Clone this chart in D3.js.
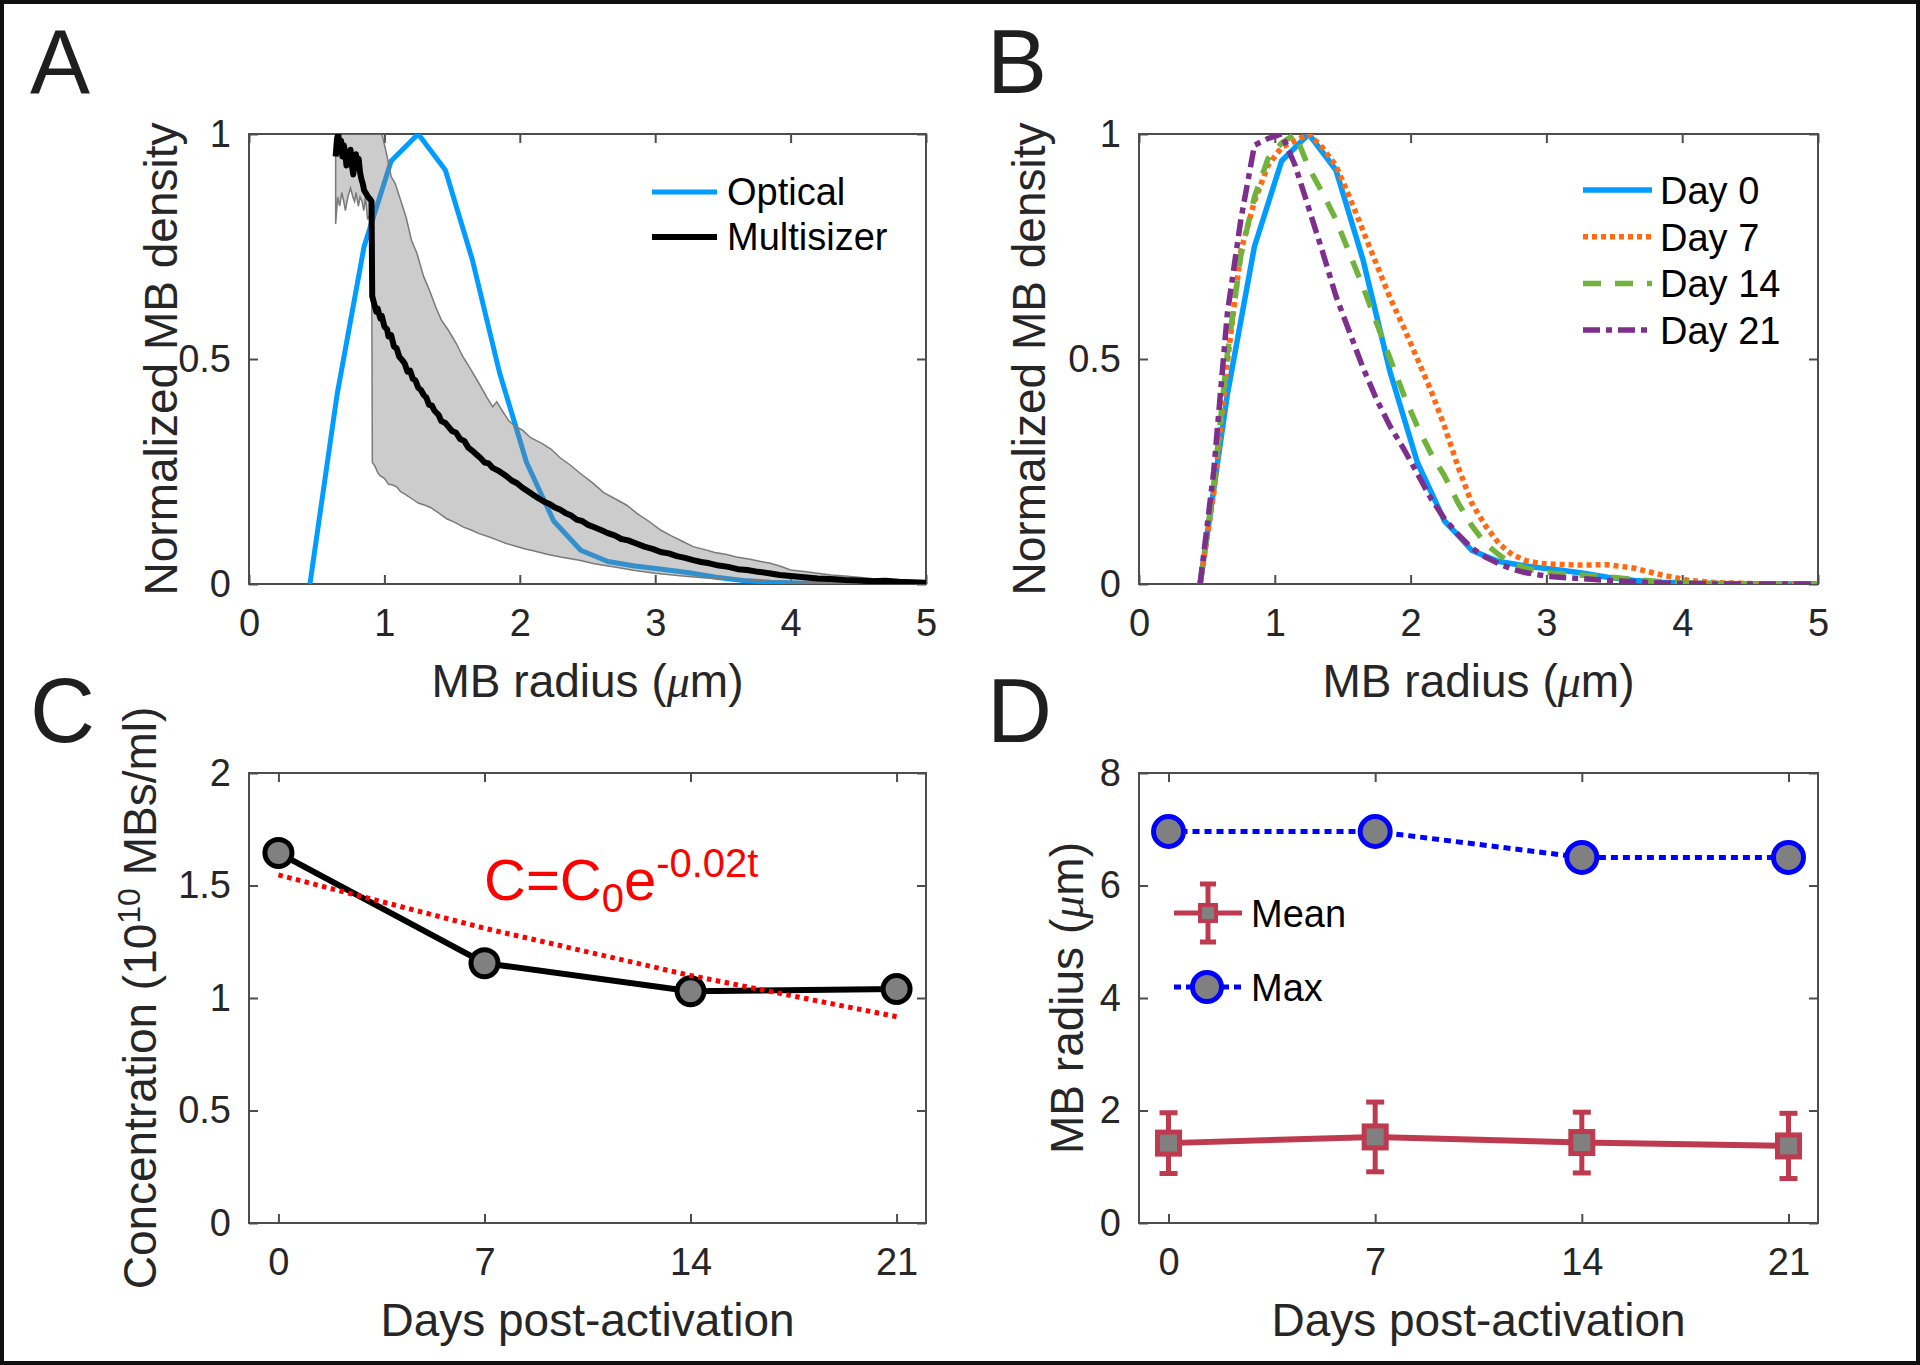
<!DOCTYPE html>
<html><head><meta charset="utf-8">
<script src="https://cdn.jsdelivr.net/npm/d3@7"></script>
<style>body{margin:0;background:#fff} svg{display:block}</style>
</head><body>
<svg id="fig" width="1920" height="1365"></svg>
<script>
// ---------- DATA ----------
// Panel A: optical sizing
const radiusOptical = [0.45,0.65,0.85,1.05,1.25,1.45,1.65,1.85,2.05,2.25,2.45,2.65,2.85,3.05,3.25,3.45,3.65,3.85,4.05,4.25,4.5,5.0];
const densityOptical = [0,0.42,0.75,0.94,1.0,0.92,0.72,0.47,0.27,0.14,0.075,0.05,0.04,0.033,0.025,0.015,0.008,0.004,0.002,0.001,0,0];
// Panel A: Multisizer mean
const msRadius = [0.640,0.650,0.660,0.670,0.680,0.690,0.700,0.710,0.720,0.730,0.740,0.750,0.760,0.770,0.780,0.790,0.800,0.810,0.820,0.830,0.840,0.850,0.860,0.870,0.880,0.895,0.905,0.910,0.92,0.94,0.95,0.97,0.98,1.00,1.02,1.03,1.05,1.07,1.09,1.11,1.13,1.15,1.17,1.19,1.21,1.23,1.25,1.27,1.29,1.31,1.33,1.35,1.37,1.40,1.42,1.45,1.48,1.50,1.53,1.56,1.59,1.62,1.65,1.68,1.71,1.74,1.77,1.80,1.84,1.87,1.90,1.94,1.98,2.02,2.06,2.10,2.14,2.18,2.22,2.26,2.30,2.34,2.38,2.42,2.46,2.50,2.55,2.60,2.65,2.70,2.75,2.80,2.86,2.92,2.98,3.04,3.10,3.16,3.22,3.28,3.34,3.40,3.47,3.54,3.61,3.68,3.76,3.84,3.92,4.00,4.10,4.20,4.30,4.40,4.50,4.60,4.70,4.80,4.90,5.00];
const msDensity = [0.95,0.99,1.0,0.96,0.985,0.95,0.975,0.96,0.93,0.955,0.94,0.965,0.93,0.91,0.935,0.955,0.93,0.945,0.915,0.9,0.89,0.875,0.87,0.865,0.86,0.855,0.85,0.64,0.628,0.605,0.612,0.59,0.596,0.572,0.566,0.55,0.553,0.528,0.524,0.505,0.498,0.49,0.472,0.474,0.456,0.452,0.436,0.431,0.42,0.414,0.398,0.397,0.385,0.376,0.362,0.358,0.347,0.34,0.336,0.322,0.318,0.303,0.296,0.288,0.28,0.27,0.268,0.258,0.252,0.246,0.24,0.23,0.224,0.214,0.206,0.198,0.19,0.183,0.178,0.17,0.165,0.157,0.152,0.143,0.14,0.132,0.126,0.12,0.113,0.108,0.1,0.097,0.09,0.083,0.078,0.071,0.068,0.062,0.058,0.053,0.049,0.046,0.041,0.038,0.033,0.031,0.027,0.024,0.02,0.018,0.015,0.012,0.011,0.009,0.008,0.006,0.007,0.005,0.004,0.003];
// Panel A: Multisizer spread (upper / lower envelope)
const bandUpperR = [0.64,0.66,0.70,0.75,0.80,0.85,0.90,0.95,0.99,1.02,1.05,1.08,1.12,1.16,1.20,1.24,1.29,1.33,1.38,1.42,1.47,1.53,1.58,1.64,1.70,1.76,1.80,1.83,1.87,1.92,1.97,2.02,2.08,2.16,2.23,2.30,2.37,2.45,2.54,2.62,2.70,2.79,2.87,2.95,3.04,3.12,3.20,3.28,3.36,3.44,3.52,3.60,3.70,3.78,3.85,3.92,4.00,4.10,4.20,4.30,4.40,4.50,4.60,4.70,4.80,4.90,5.00];
const bandUpperD = [1.04,1.08,1.05,1.1,1.06,1.09,1.07,1.03,0.99,0.95,0.905,0.89,0.853,0.815,0.764,0.735,0.683,0.655,0.615,0.587,0.565,0.535,0.505,0.476,0.445,0.413,0.394,0.405,0.385,0.362,0.35,0.342,0.325,0.313,0.3,0.28,0.265,0.245,0.224,0.203,0.19,0.175,0.156,0.14,0.12,0.107,0.095,0.083,0.077,0.07,0.066,0.06,0.055,0.05,0.046,0.04,0.031,0.028,0.024,0.02,0.018,0.015,0.012,0.01,0.008,0.007,0.005];
const bandLowerR = [0.64,0.655,0.67,0.685,0.70,0.712,0.73,0.75,0.767,0.78,0.79,0.808,0.82,0.835,0.848,0.86,0.876,0.89,0.905,0.911,0.93,0.95,0.97,1.0,1.03,1.06,1.09,1.12,1.16,1.2,1.25,1.30,1.34,1.40,1.46,1.52,1.58,1.64,1.70,1.77,1.83,1.9,1.97,2.04,2.1,2.2,2.3,2.44,2.55,2.7,2.85,3.0,3.2,3.4,3.6,3.8,4.0,4.3,4.6,5.0];
const bandLowerD = [0.80,0.86,0.84,0.87,0.85,0.83,0.86,0.88,0.86,0.85,0.87,0.84,0.86,0.85,0.83,0.86,0.81,0.82,0.80,0.27,0.262,0.248,0.24,0.235,0.222,0.22,0.216,0.205,0.198,0.19,0.18,0.175,0.17,0.158,0.145,0.137,0.127,0.12,0.112,0.105,0.098,0.09,0.084,0.078,0.074,0.066,0.06,0.053,0.045,0.038,0.03,0.024,0.018,0.013,0.01,0.007,0.005,0.003,0.002,0.001];
// Panel B: size distribution per day
const radiusB = [0.45,0.55,0.65,0.75,0.85,0.95,1.05,1.15,1.25,1.35,1.45,1.55,1.65,1.75,1.85,1.95,2.05,2.15,2.25,2.35,2.45,2.55,2.65,2.75,2.85,2.95,3.05,3.25,3.45,3.65,3.85,4.05,4.25,4.5,4.75,5.0];
const densityDay0 = [0,0.21,0.42,0.585,0.75,0.845,0.94,0.97,1.0,0.96,0.92,0.82,0.72,0.595,0.47,0.37,0.27,0.205,0.14,0.108,0.075,0.062,0.05,0.045,0.04,0.036,0.033,0.025,0.015,0.008,0.004,0.002,0.001,0,0,0];
const densityDay7 = [0,0.2,0.49,0.74,0.85,0.93,0.97,0.985,1.0,0.97,0.93,0.86,0.785,0.71,0.635,0.57,0.5,0.43,0.35,0.26,0.18,0.13,0.09,0.065,0.052,0.046,0.044,0.042,0.043,0.035,0.02,0.008,0.003,0.001,0,0];
const densityDay14 = [0,0.22,0.51,0.73,0.86,0.945,0.98,1.0,0.925,0.87,0.81,0.735,0.66,0.58,0.5,0.42,0.35,0.29,0.24,0.18,0.13,0.09,0.065,0.045,0.035,0.028,0.024,0.02,0.016,0.01,0.005,0.002,0.001,0,0,0];
const densityDay21 = [0,0.25,0.6,0.81,0.975,0.99,1.0,0.93,0.835,0.74,0.64,0.56,0.48,0.41,0.35,0.3,0.245,0.19,0.145,0.11,0.08,0.06,0.045,0.033,0.025,0.02,0.016,0.012,0.008,0.005,0.002,0.001,0,0,0,0];
const dayLabels = ["Day 0","Day 7","Day 14","Day 21"];
// Panel C: concentration
const days = [0,7,14,21];
const concentration = [1.645,1.155,1.03,1.04];
const fitConcentration = [1.547,1.31,1.1,0.917];
const fitLabel = "-0.02t";
// Panel D: radius
const meanRadius = [1.42,1.53,1.43,1.37];
const meanRadiusErr = [0.54,0.62,0.54,0.58];
const maxRadius = [6.96,6.96,6.5,6.5];
// ticks
const radiusTicks = [0,1,2,3,4,5];
const densityTicks = [0,0.5,1];
const dayTicks = [0,7,14,21];
const concTicks = [0,0.5,1,1.5,2];
const radiusDTicks = [0,2,4,6,8];

// ---------- DRAWING ----------
const FONT = '"Liberation Sans", Arial, Helvetica, sans-serif';
const svg = d3.select('#fig');
svg.append('rect').attr('width',1920).attr('height',1365).attr('fill','#fff');
const defs = svg.append('defs');

const panels = {
  A:{left:249,right:926,top:134,bottom:584},
  B:{left:1139,right:1818,top:134,bottom:584},
  C:{left:249,right:926,top:773,bottom:1223},
  D:{left:1139,right:1818,top:773,bottom:1223}
};
const AX = '#4d4d4d', TXT = '#262626';

function setup(id, xDom, yDom, xTicks, yTicks) {
  const p = panels[id];
  const x = d3.scaleLinear().domain(xDom).range([p.left, p.right]);
  const y = d3.scaleLinear().domain(yDom).range([p.bottom, p.top]);
  defs.append('clipPath').attr('id','clip'+id).append('rect')
    .attr('x',p.left).attr('y',p.top).attr('width',p.right-p.left).attr('height',p.bottom-p.top);
  const g = svg.append('g');
  g.append('rect').attr('x',p.left).attr('y',p.top).attr('width',p.right-p.left).attr('height',p.bottom-p.top)
    .attr('fill','none').attr('stroke',AX).attr('stroke-width',2);
  const axes = [
    [d3.axisBottom(x).tickValues(xTicks).tickFormat(d=>String(d)).tickPadding(25), `translate(0,${p.bottom})`],
    [d3.axisTop(x).tickValues(xTicks).tickFormat(''), `translate(0,${p.top})`],
    [d3.axisLeft(y).tickValues(yTicks).tickFormat(d=>String(d)).tickPadding(18), `translate(${p.left},0)`],
    [d3.axisRight(y).tickValues(yTicks).tickFormat(''), `translate(${p.right},0)`]
  ];
  axes.forEach(([ax, tr]) => {
    ax.tickSizeInner(-9).tickSizeOuter(0);
    const a = g.append('g').attr('transform', tr).call(ax);
    a.attr('font-family', FONT).attr('font-size', 38);
    a.select('.domain').remove();
    a.selectAll('.tick line').attr('stroke', AX).attr('stroke-width', 2);
    a.selectAll('.tick text').attr('fill', TXT);
  });
  const plot = svg.append('g').attr('clip-path', `url(#clip${id})`);
  return {x, y, g, plot, p};
}

function xlabel(P, parts) {
  const t = svg.append('text').attr('x',(P.p.left+P.p.right)/2).attr('y',P.p.bottom+113)
    .attr('text-anchor','middle').attr('font-family',FONT).attr('font-size',46).attr('fill',TXT);
  parts(t);
}
function ylabel(P, bx, parts) {
  const cy = (P.p.top+P.p.bottom)/2;
  const t = svg.append('text').attr('transform',`translate(${bx},${cy}) rotate(-90)`)
    .attr('text-anchor','middle').attr('font-family',FONT).attr('font-size',46).attr('fill',TXT);
  parts(t);
}
function muLabel(prefix){
  return t => {
    t.append('tspan').text(prefix + ' (');
    t.append('tspan').attr('font-family','"Liberation Serif", "DejaVu Serif", serif').attr('font-style','italic').text('μ');
    t.append('tspan').text('m)');
  };
}
function letter(ch, x, y) {
  svg.append('text').attr('x',x).attr('y',y).attr('font-family',FONT).attr('font-size',90)
    .attr('fill','#1f1f1f').text(ch);
}

const blue = '#009cff', orange = '#ff6a13', green = '#70b33c', purple = '#7e2f8e';
const crimson = '#be3a4f', maxBlue = '#0000ff';

// ===== Panel A =====
const A = setup('A', [0,5], [0,1], radiusTicks, densityTicks);
const lineA = d3.line().x(d=>A.x(d[0])).y(d=>A.y(d[1]));
A.plot.append('path').attr('d', lineA(d3.zip(radiusOptical, densityOptical)))
  .attr('fill','none').attr('stroke',blue).attr('stroke-width',5).attr('stroke-linejoin','round');
const bandPts = d3.zip(bandUpperR, bandUpperD).concat(d3.zip(bandLowerR, bandLowerD).reverse());
A.plot.append('path').attr('d', lineA(bandPts) + 'Z')
  .attr('fill','#808080').attr('fill-opacity',0.4).attr('stroke','#7a7a7a').attr('stroke-width',1.5);
A.plot.append('path').attr('d', lineA(d3.zip(msRadius, msDensity)))
  .attr('fill','none').attr('stroke','#000').attr('stroke-width',6).attr('stroke-linejoin','round');
xlabel(A, muLabel('MB radius'));
ylabel(A, 177, t=>t.text('Normalized MB density'));
letter('A', 30, 93);
// legend A
const legA = [{label:'Optical', color:blue, w:5}, {label:'Multisizer', color:'#000', w:6}];
legA.forEach((d,i)=>{
  const yy = 192 + i*45;
  svg.append('line').attr('x1',652).attr('x2',717).attr('y1',yy).attr('y2',yy).attr('stroke',d.color).attr('stroke-width',d.w);
  svg.append('text').attr('x',727).attr('y',yy+13).attr('font-family',FONT).attr('font-size',38).attr('fill','#000').text(d.label);
});

// ===== Panel B =====
const B = setup('B', [0,5], [0,1], radiusTicks, densityTicks);
const lineB = d3.line().x(d=>B.x(d[0])).y(d=>B.y(d[1]));
const seriesB = [
  {y:densityDay0, color:blue, dash:null},
  {y:densityDay7, color:orange, dash:'5,4'},
  {y:densityDay14, color:green, dash:'18,14'},
  {y:densityDay21, color:purple, dash:'17,6,6,6'}
];
seriesB.forEach(s=>{
  B.plot.append('path').attr('d', lineB(d3.zip(radiusB, s.y)))
    .attr('fill','none').attr('stroke',s.color).attr('stroke-width',5.5)
    .attr('stroke-dasharray', s.dash).attr('stroke-linejoin','round');
});
xlabel(B, muLabel('MB radius'));
ylabel(B, 1045, t=>t.text('Normalized MB density'));
letter('B', 987, 93);
seriesB.forEach((s,i)=>{
  const yy = 190 + i*46.7;
  svg.append('line').attr('x1',1583).attr('x2',1652).attr('y1',yy).attr('y2',yy)
    .attr('stroke',s.color).attr('stroke-width',5.5).attr('stroke-dasharray',s.dash);
  svg.append('text').attr('x',1660).attr('y',yy+14).attr('font-family',FONT).attr('font-size',38).attr('fill','#000').text(dayLabels[i]);
});

// ===== Panel C =====
const C = setup('C', [-1,22], [0,2], dayTicks, concTicks);
const lineC = d3.line().x(d=>C.x(d[0])).y(d=>C.y(d[1]));
C.plot.append('path').attr('d', lineC(d3.zip(days, concentration)))
  .attr('fill','none').attr('stroke','#000').attr('stroke-width',6);
C.plot.selectAll('circle.c').data(d3.zip(days, concentration)).enter().append('circle')
  .attr('cx',d=>C.x(d[0])).attr('cy',d=>C.y(d[1])).attr('r',13.5)
  .attr('fill','#808080').attr('stroke','#000').attr('stroke-width',5);
C.plot.append('path').attr('d', lineC(d3.zip(days, fitConcentration)))
  .attr('fill','none').attr('stroke','#ff0000').attr('stroke-width',5).attr('stroke-dasharray','4.5,4.5');
// equation
const eq = svg.append('text').attr('x',484).attr('y',900).attr('font-family',FONT).attr('font-size',58).attr('fill','#ff0000');
eq.append('tspan').text('C=C');
eq.append('tspan').attr('font-size',40).attr('dy',12).text('0');
eq.append('tspan').attr('font-size',58).attr('dy',-12).text('e');
eq.append('tspan').attr('font-size',40).attr('dy',-23).text(fitLabel);
xlabel(C, t=>t.text('Days post-activation'));
ylabel(C, 156, t=>{
  t.append('tspan').text('Concentration (10');
  t.append('tspan').attr('font-size',32).attr('dy',-16).text('10');
  t.append('tspan').attr('dy',16).text(' MBs/ml)');
});
letter('C', 30, 742);

// ===== Panel D =====
const D = setup('D', [-1,22], [0,8], dayTicks, radiusDTicks);
const lineD = d3.line().x(d=>D.x(d[0])).y(d=>D.y(d[1]));
D.plot.append('path').attr('d', lineD(d3.zip(days, maxRadius)))
  .attr('fill','none').attr('stroke',maxBlue).attr('stroke-width',5).attr('stroke-dasharray','7,5');
D.plot.selectAll('circle.m').data(d3.zip(days, maxRadius)).enter().append('circle')
  .attr('cx',d=>D.x(d[0])).attr('cy',d=>D.y(d[1])).attr('r',15)
  .attr('fill','#808080').attr('stroke',maxBlue).attr('stroke-width',5);
D.plot.append('path').attr('d', lineD(d3.zip(days, meanRadius)))
  .attr('fill','none').attr('stroke',crimson).attr('stroke-width',6);
const eb = D.plot.selectAll('g.eb').data(d3.zip(days, meanRadius, meanRadiusErr)).enter().append('g');
eb.append('line').attr('x1',d=>D.x(d[0])).attr('x2',d=>D.x(d[0]))
  .attr('y1',d=>D.y(d[1]-d[2])).attr('y2',d=>D.y(d[1]+d[2])).attr('stroke',crimson).attr('stroke-width',5);
[-1,1].forEach(sg=>{
  eb.append('line').attr('x1',d=>D.x(d[0])-9).attr('x2',d=>D.x(d[0])+9)
    .attr('y1',d=>D.y(d[1]+sg*d[2])).attr('y2',d=>D.y(d[1]+sg*d[2])).attr('stroke',crimson).attr('stroke-width',5);
});
eb.append('rect').attr('x',d=>D.x(d[0])-11).attr('y',d=>D.y(d[1])-11).attr('width',22).attr('height',22)
  .attr('fill','#808080').attr('stroke',crimson).attr('stroke-width',5);
xlabel(D, t=>t.text('Days post-activation'));
ylabel(D, 1083, muLabel('MB radius'));
letter('D', 987, 742);
// legend D
{
  const yM = 913, cx = 1208;
  svg.append('line').attr('x1',1174).attr('x2',1242).attr('y1',yM).attr('y2',yM).attr('stroke',crimson).attr('stroke-width',5);
  svg.append('line').attr('x1',cx).attr('x2',cx).attr('y1',yM-29).attr('y2',yM+29).attr('stroke',crimson).attr('stroke-width',5);
  [-29,29].forEach(o=>svg.append('line').attr('x1',cx-8).attr('x2',cx+8).attr('y1',yM+o).attr('y2',yM+o).attr('stroke',crimson).attr('stroke-width',5));
  svg.append('rect').attr('x',cx-8).attr('y',yM-8).attr('width',16).attr('height',16).attr('fill','#808080').attr('stroke',crimson).attr('stroke-width',4);
  svg.append('text').attr('x',1251).attr('y',yM+14).attr('font-family',FONT).attr('font-size',38).attr('fill','#000').text('Mean');
  const yX = 987;
  svg.append('line').attr('x1',1174).attr('x2',1242).attr('y1',yX).attr('y2',yX).attr('stroke',maxBlue).attr('stroke-width',5).attr('stroke-dasharray','7,5');
  svg.append('circle').attr('cx',1207).attr('cy',yX).attr('r',14.5).attr('fill','#808080').attr('stroke',maxBlue).attr('stroke-width',5);
  svg.append('text').attr('x',1251).attr('y',yX+14).attr('font-family',FONT).attr('font-size',38).attr('fill','#000').text('Max');
}

// outer border
svg.append('rect').attr('x',2).attr('y',2).attr('width',1916).attr('height',1361)
  .attr('fill','none').attr('stroke','#111').attr('stroke-width',4);
</script>
</body></html>
